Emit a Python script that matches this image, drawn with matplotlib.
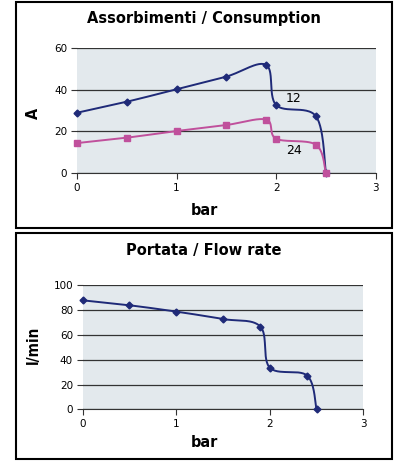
import numpy as np
import matplotlib
matplotlib.use("Agg")
import matplotlib.pyplot as plt
from matplotlib.patches import Rectangle

# consumption (A) vs pressure (bar)
bar_x = [0, 0.5, 1, 1.5, 1.9, 2.0, 2.4, 2.5]
amp_12 = [29.0, 34.3, 40.3, 46.4, 52.0, 32.7, 27.3, 0]
amp_24 = [14.4, 17.0, 20.2, 23.1, 25.7, 16.5, 13.6, 0]

# flow rate (l/min) vs pressure (bar)
flow_x = [0, 0.5, 1, 1.5, 1.9, 2.0, 2.4, 2.5]
flow = [87.9, 83.9, 78.8, 72.8, 66.7, 33.6, 27.2, 0]

navy = "#1f2a78"
pink = "#c0509c"
bg = "#e3e9ed"
plt.rcParams["font.family"] = ["DejaVu Sans"]
cond = dict(family="DejaVu Sans", stretch="condensed", fontweight="bold")


def smooth(ax, xs, ys, n=30):
    # excel-like smoothed line (catmull-rom as bezier), computed in display space
    pts = ax.transData.transform(np.column_stack([xs, ys]))
    p = np.vstack([pts[0], pts, pts[-1]])
    out = []
    t = np.linspace(0, 1, n)[:, None]
    for i in range(1, len(p) - 2):
        p0, p3 = p[i], p[i + 1]
        c1 = p0 + (p[i + 1] - p[i - 1]) / 6
        c2 = p3 - (p[i + 2] - p[i]) / 6
        seg = ((1 - t) ** 3) * p0 + 3 * ((1 - t) ** 2) * t * c1 + 3 * (1 - t) * t ** 2 * c2 + t ** 3 * p3
        out.append(seg)
    out = np.vstack(out)
    return ax.transData.inverted().transform(out)


def style(ax, ymax, ystep):
    ax.set_facecolor(bg)
    ax.set_xlim(0, 3)
    ax.set_ylim(0, ymax)
    ax.set_xticks([0, 1, 2, 3])
    ax.set_yticks(np.arange(0, ymax + 1, ystep))
    for s in ["top", "right", "left"]:
        ax.spines[s].set_visible(False)
    ax.spines["bottom"].set_color("#333333")
    ax.yaxis.grid(True, color="#333333", linewidth=0.9)
    ax.set_axisbelow(True)
    ax.tick_params(axis="both", length=4, width=0.8, color="#333333", labelsize=7.5, pad=3)


fig = plt.figure(figsize=(3.98, 4.61), dpi=100)

for y0 in [0.5054, 0.0043]:
    fig.patches.append(Rectangle((0.0402, y0), 0.9447, 0.4902, transform=fig.transFigure,
                                 fill=False, edgecolor="black", linewidth=1.5))

ax1 = fig.add_axes([0.1935, 0.6247, 0.7505, 0.2705])
style(ax1, 60, 20)
for ys, col, mk, ms in [(amp_12, navy, "D", 3.5), (amp_24, pink, "s", 4.5)]:
    c = smooth(ax1, bar_x, ys)
    ax1.plot(c[:, 0], c[:, 1], color=col, linewidth=1.4, clip_on=False, zorder=3)
    ax1.plot(bar_x, ys, linestyle="none", marker=mk, markersize=ms, color=col, clip_on=False, zorder=4)
ax1.text(2.17, 36, "12", fontsize=9, ha="center", va="center")
ax1.text(2.18, 11, "24", fontsize=9, ha="center", va="center")

ax2 = fig.add_axes([0.2078, 0.1121, 0.705, 0.269])
style(ax2, 100, 20)
c = smooth(ax2, flow_x, flow)
ax2.plot(c[:, 0], c[:, 1], color=navy, linewidth=1.4, clip_on=False, zorder=3)
ax2.plot(flow_x, flow, linestyle="none", marker="D", markersize=3.5, color=navy, clip_on=False, zorder=4)

# titles and axis labels centred on the framed boxes
fig.text(0.513, 0.959, "Assorbimenti / Consumption", fontsize=11.7, ha="center", va="center", **cond)
fig.text(0.513, 0.4577, "Portata / Flow rate", fontsize=11.7, ha="center", va="center", **cond)
fig.text(0.513, 1 - 210 / 461, "bar", fontsize=11.5, ha="center", va="center", **cond)
fig.text(0.513, 1 - 442 / 461, "bar", fontsize=11.5, ha="center", va="center", **cond)
fig.text(33 / 398, 1 - 113 / 461, "A", fontsize=11.5, rotation=90, ha="center", va="center", **cond)
fig.text(33 / 398, 1 - 345 / 461, "l/min", fontsize=11, rotation=90, ha="center", va="center", **cond)

fig.savefig("out.png", dpi=100)
